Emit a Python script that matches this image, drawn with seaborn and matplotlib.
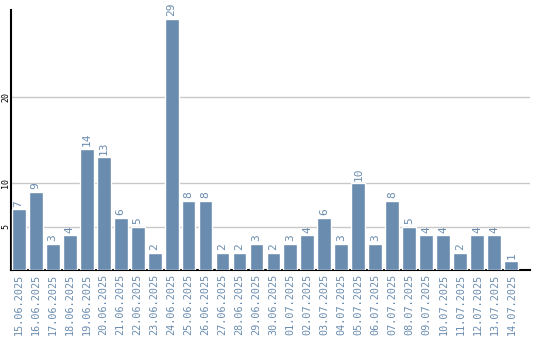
import matplotlib
matplotlib.use("Agg")
import matplotlib.pyplot as plt
import seaborn as sns
import pandas as pd

dates = ["15.06.2025", "16.06.2025", "17.06.2025", "18.06.2025", "19.06.2025",
         "20.06.2025", "21.06.2025", "22.06.2025", "23.06.2025", "24.06.2025",
         "25.06.2025", "26.06.2025", "27.06.2025", "28.06.2025", "29.06.2025",
         "30.06.2025", "01.07.2025", "02.07.2025", "03.07.2025", "04.07.2025",
         "05.07.2025", "06.07.2025", "07.07.2025", "08.07.2025", "09.07.2025",
         "10.07.2025", "11.07.2025", "12.07.2025", "13.07.2025", "14.07.2025"]
counts = [7, 9, 3, 4, 14, 13, 6, 5, 2, 29, 8, 8, 2, 2, 3, 2, 3, 4, 6, 3,
          10, 3, 8, 5, 4, 4, 2, 4, 4, 1]
yticks = [5, 10, 20]

sns.set_theme(style="white")
plt.rcParams['font.family'] = ['DejaVu Sans Mono', 'DejaVu Sans']

bar_color = "#6a8caf"
text_color = "#6a8caf"

df = pd.DataFrame({"date": dates, "count": counts})

fig = plt.figure(figsize=(5.4, 3.4), dpi=100)
ax = fig.add_axes([11/540, 70/340, 519/540, 260/340])
sns.barplot(data=df, x="date", y="count", color=bar_color, width=0.82,
            saturation=1, ax=ax, zorder=3)

ax.set_ylim(0, 30)
ax.set_xlim(-0.45, 30.1)
ax.set_yticks(yticks)
ax.set_yticklabels([str(t) for t in yticks], rotation=90, va="center",
                   fontsize=6, color="black")
ax.yaxis.grid(True, color="#c8c8c8", linewidth=1, zorder=0)
ax.xaxis.grid(False)
ax.tick_params(axis="x", labelrotation=90, labelsize=7.3, colors=text_color,
               length=0, pad=3)
ax.tick_params(axis="y", length=0, pad=0.5)
for lab in ax.get_xticklabels():
    lab.set_color(text_color)
ax.set_xlabel("")
ax.set_ylabel("")

for s in ["top", "right"]:
    ax.spines[s].set_visible(False)
for s in ["left", "bottom"]:
    ax.spines[s].set_color("black")
    ax.spines[s].set_linewidth(1.5)

for i, v in enumerate(counts):
    ax.text(i, v + 0.3, str(v), rotation=90, ha="center", va="bottom",
            fontsize=8, color=text_color)

fig.savefig("out.png", dpi=100)
